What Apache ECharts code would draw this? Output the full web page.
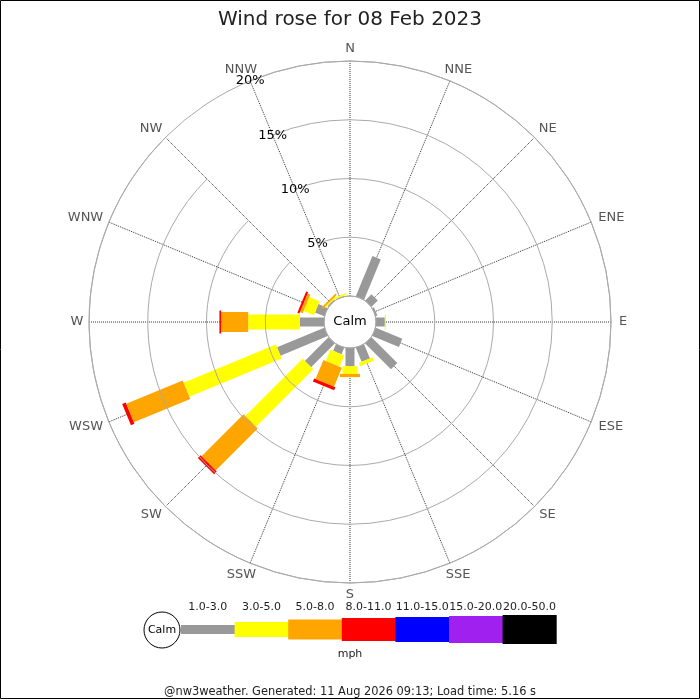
<!DOCTYPE html>
<html>
<head>
<meta charset="utf-8">
<script src="https://cdn.jsdelivr.net/npm/echarts@6/dist/echarts.min.js"></script>
<style>
html,body{margin:0;padding:0;background:#fff;}
#chart{width:700px;height:700px;}
</style>
</head>
<body>
<div id="chart"></div>
<script>
// Directions, clockwise from North
const directions = ['N','NNE','NE','ENE','E','ESE','SE','SSE','S','SSW','SW','WSW','W','WNW','NW','NNW'];
// Frequencies (%) per speed class, in the order of `directions`
const speed1to3   = [0, 3.7, 0.75, 0.15, 0.75, 2.45, 3.1, 1.3, 1.55, 0.6, 2.85, 4.35, 2.05, 0.85, 0.1, 0.05];
const speed3to5   = [0, 0, 0, 0, 0.1, 0, 0, 0.3, 0.65, 1.05, 6.9, 8.5, 4.4, 0.95, 0.12, 0.15];
const speed5to8   = [0, 0, 0, 0, 0, 0, 0, 0, 0.28, 1.75, 5.05, 5.2, 2.3, 0.25, 0.15, 0];
const speed8to11  = [0, 0, 0, 0, 0, 0, 0, 0, 0, 0.28, 0.32, 0.32, 0.15, 0.18, 0, 0];
const speed11to15 = [0, 0, 0, 0, 0, 0, 0, 0, 0, 0, 0, 0, 0, 0, 0, 0];
const speed15to20 = [0, 0, 0, 0, 0, 0, 0, 0, 0, 0, 0, 0, 0, 0, 0, 0];
const speed20to50 = [0, 0, 0, 0, 0, 0, 0, 0, 0, 0, 0, 0, 0, 0, 0, 0];
const speedLabels = ['1.0-3.0','3.0-5.0','5.0-8.0','8.0-11.0','11.0-15.0','15.0-20.0','20.0-50.0'];
const percentTicks = [0, 5, 10, 15, 20];

const speedSeries = [speed1to3, speed3to5, speed5to8, speed8to11, speed11to15, speed15to20, speed20to50];
const colors = ['#999999','#ffff00','#ffa500','#ff0000','#0000ff','#a020f0','#000000'];
const barWidths = [9, 15, 20, 23, 25, 27, 29];

// angle axis starts at NNW so that the % labels sit on the NNW spoke
const axisDirs = [directions[15]].concat(directions.slice(0, 15));

const FONT = 'DejaVu Sans';
const CX = 350, CY = 322, R0 = 26, R1 = 261;
const RMAX = percentTicks[percentTicks.length - 1];

// text measuring for compass-label placement
const mctx = document.createElement('canvas').getContext('2d');
mctx.font = '13px "' + FONT + '"';

// cumulative start/end per class
const cum = directions.map(() => 0);
const series = speedSeries.map((vals, k) => {
  const data = directions.map((d, i) => {
    const s = cum[i];
    const e = s + vals[i];
    cum[i] = e;
    return [d, s, e];
  });
  const w = barWidths[k];
  const col = colors[k];
  return {
    type: 'custom',
    name: speedLabels[k],
    coordinateSystem: 'polar',
    dimensions: ['dir', 'start', 'end'],
    encode: { angle: 'dir', radius: ['start', 'end'] },
    data: data,
    silent: true,
    z: 3,
    renderItem: function (params, api) {
      const idx = api.value(0);
      const a = api.value(1), b = api.value(2);
      if (!(b > a)) return null;
      const p0 = api.coord([a, idx]);
      const p1 = api.coord([b, idx]);
      const dx = p1[0] - p0[0], dy = p1[1] - p0[1];
      const len = Math.sqrt(dx * dx + dy * dy) || 1;
      const nx = -dy / len * w / 2, ny = dx / len * w / 2;
      return {
        type: 'polygon',
        shape: { points: [
          [p0[0] + nx, p0[1] + ny], [p1[0] + nx, p1[1] + ny],
          [p1[0] - nx, p1[1] - ny], [p0[0] - nx, p0[1] - ny]
        ] },
        style: { fill: col, stroke: null }
      };
    }
  };
});

// compass labels placed outside the outer ring
const LABEL_R = 273;
series.push({
  type: 'custom',
  coordinateSystem: 'polar',
  dimensions: ['dir', 'r'],
  encode: { angle: 'dir', radius: 'r' },
  data: directions.map(d => [d, (LABEL_R - R0) / (R1 - R0) * RMAX]),
  silent: true,
  z: 4,
  renderItem: function (params, api) {
    const idx = api.value(0);
    const name = axisDirs[idx];
    const p = api.coord([api.value(1), idx]);
    const sx = (p[0] - CX) / LABEL_R, sy = (p[1] - CY) / LABEL_R;
    const tw = mctx.measureText(name).width;
    const shift = Math.abs(sy) > 0.1 ? 0.75 * (tw / 2) * sx : 0;
    return {
      type: 'text', x: p[0] + shift, y: p[1],
      style: { text: name, fill: '#555', font: '13px "' + FONT + '"', align: 'center', verticalAlign: 'middle' }
    };
  }
});

// legend drawn as graphics
const legendX0 = 181, segW = 53.6, legendY = 629.5;
const legendEls = [];
legendEls.push({ type: 'circle', shape: { cx: 162, cy: 630, r: 18 }, style: { fill: '#fff', stroke: '#000', lineWidth: 1 } });
legendEls.push({ type: 'text', x: 162, y: 630, style: { text: 'Calm', font: '11px "' + FONT + '"', fill: '#000', align: 'center', verticalAlign: 'middle' } });
speedLabels.forEach((lab, k) => {
  const x = legendX0 + k * segW;
  legendEls.push({ type: 'rect', shape: { x: x, y: legendY - barWidths[k] / 2, width: segW + 0.5, height: barWidths[k] }, style: { fill: colors[k] } });
  legendEls.push({ type: 'text', x: x + segW / 2, y: 607, style: { text: lab, font: '11px "' + FONT + '"', fill: '#222', align: 'center', verticalAlign: 'middle' } });
});
legendEls.push({ type: 'text', x: 350, y: 654, style: { text: 'mph', font: '11px "' + FONT + '"', fill: '#222', align: 'center', verticalAlign: 'middle' } });

const chart = echarts.init(document.getElementById('chart'), null, { renderer: 'canvas' });
chart.setOption({
  backgroundColor: '#fff',
  animation: false,
  title: {
    text: 'Wind rose for 08 Feb 2023',
    left: 'center', top: 5,
    textStyle: { fontFamily: FONT, fontSize: 20, fontWeight: 'normal', color: '#222' }
  },
  polar: { center: [CX, CY], radius: [R0, R1] },
  angleAxis: {
    type: 'category',
    data: axisDirs,
    boundaryGap: false,
    startAngle: 112.5,
    clockwise: true,
    axisLine: { show: true, lineStyle: { color: '#aaa', width: 1 } },
    axisTick: { show: false },
    axisLabel: { show: false },
    splitLine: { show: true, lineStyle: { color: '#333', width: 1, type: 'dotted' } },
    z: 1
  },
  radiusAxis: {
    type: 'value',
    min: percentTicks[0], max: RMAX, interval: percentTicks[1] - percentTicks[0],
    axisLine: { show: false },
    axisTick: { show: false },
    axisLabel: {
      show: true, margin: 0, align: 'center', verticalAlign: 'middle',
      color: '#000', fontFamily: FONT, fontSize: 13,
      formatter: v => (v === 0 ? '' : v + '%')
    },
    splitLine: { show: true, lineStyle: { color: '#aaa', width: 1 } },
    z: 5
  },
  series: series,
  graphic: [
    { type: 'rect', shape: { x: 0.5, y: 0.5, width: 699, height: 698 }, style: { fill: 'none', stroke: '#000', lineWidth: 1 }, z: 100 },
    { type: 'text', x: CX, y: CY, style: { text: 'Calm', font: '13px "' + FONT + '"', fill: '#000', align: 'center', verticalAlign: 'middle' }, z: 50 },
    { type: 'group', children: legendEls },
    { type: 'text', x: 350, y: 692, style: { text: '@nw3weather. Generated: 11 Aug 2026 09:13; Load time: 5.16 s', font: '11.4px "' + FONT + '"', fill: '#222', align: 'center', verticalAlign: 'middle' } }
  ]
});
</script>
</body>
</html>
